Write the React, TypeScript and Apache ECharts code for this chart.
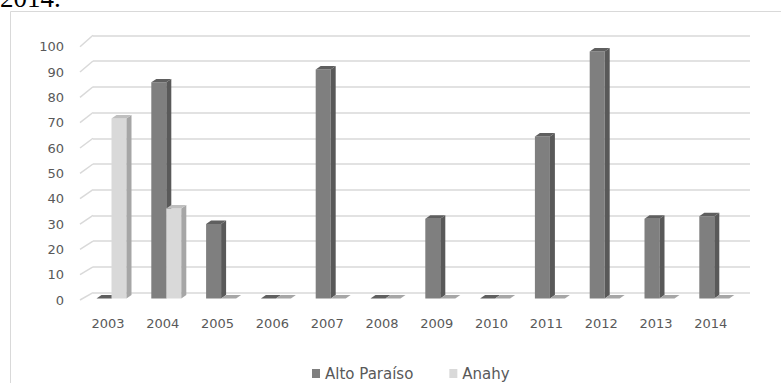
import React, { useEffect, useRef } from "react";
import * as echarts from "echarts";

const years = ["2003", "2004", "2005", "2006", "2007", "2008", "2009", "2010", "2011", "2012", "2013", "2014"];
const altoParaiso = [0, 84, 29, 0, 89, 0, 31, 0, 63, 96, 31, 32];
const anahy = [70, 35, 0, 0, 0, 0, 0, 0, 0, 0, 0, 0];
const seriesNames = ["Alto Paraíso", "Anahy"];
const yTickValues = [0, 10, 20, 30, 40, 50, 60, 70, 80, 90, 100];

const FONT = "DejaVu Sans";

export default function App() {
  const ref = useRef<HTMLDivElement>(null);

  useEffect(() => {
    if (!ref.current) return;
    const chart = echarts.init(ref.current, undefined, { renderer: "svg" });

    const BW = 15;
    const DX = 5;
    const DY = 3.4;
    const SHIFT = 3.5;

    const makeBarRender = (side: number, face: string, sideC: string, topC: string, flatC: string) =>
      (params: any, api: any) => {
        const idx = api.value(0);
        const val = api.value(1);
        const base = api.coord([idx, 0]);
        const top = api.coord([idx, val]);
        const x0 = side === 0 ? base[0] - BW + SHIFT : base[0] + SHIFT;
        const yb = base[1];
        const yt = top[1];
        if (val <= 0) {
          return {
            type: "polygon",
            shape: { points: [[x0, yb], [x0 + DX, yb - DY], [x0 + BW + DX, yb - DY], [x0 + BW, yb]] },
            style: { fill: flatC },
          };
        }
        return {
          type: "group",
          children: [
            { type: "rect", shape: { x: x0, y: yt, width: BW, height: yb - yt }, style: { fill: face } },
            {
              type: "polygon",
              shape: { points: [[x0 + BW, yt], [x0 + BW + DX, yt - DY], [x0 + BW + DX, yb - DY], [x0 + BW, yb]] },
              style: { fill: sideC },
            },
            {
              type: "polygon",
              shape: { points: [[x0, yt], [x0 + DX, yt - DY], [x0 + BW + DX, yt - DY], [x0 + BW, yt]] },
              style: { fill: topC },
            },
          ],
        };
      };

    const slantRender = (params: any, api: any) => {
      const v = api.value(1);
      const back = api.coord([0, v]);
      let front: number[] = [back[0] - 13, back[1] + 9 + (2.7 * v) / 100];
      try {
        const p = chart.convertToPixel({ gridIndex: 1 } as any, [0, v]) as any;
        if (p && isFinite(p[0]) && isFinite(p[1])) front = p;
      } catch (e) {}
      return {
        type: "line",
        shape: { x1: front[0], y1: front[1], x2: back[0], y2: back[1] },
        style: { stroke: "#d9d9d9", lineWidth: 1.5 },
      };
    };

    chart.setOption({
      animation: false,
      backgroundColor: "#ffffff",
      textStyle: { fontFamily: FONT },
      grid: [
        { left: 80.6, right: 42.8, top: 41.2, bottom: 84.5 },
        { left: 80, right: 31, top: 46.7, bottom: 83 },
        { left: 93, right: 31, top: 35.3, bottom: 90.3 },
      ],
      xAxis: [
        {
          type: "category",
          gridIndex: 0,
          data: years,
          axisLine: { show: false },
          axisTick: { show: false },
          axisLabel: { color: "#595959", fontSize: 13, fontFamily: FONT, margin: 18 },
        },
        { type: "value", gridIndex: 1, min: 0, max: 1, show: false },
        { type: "value", gridIndex: 2, min: 0, max: 1, show: false },
      ],
      yAxis: [
        { type: "value", gridIndex: 0, min: 0, max: 100, interval: 10, show: false },
        {
          type: "value",
          gridIndex: 1,
          min: 0,
          max: 100,
          interval: 10,
          axisLine: { show: false },
          axisTick: { show: false },
          splitLine: { show: false },
          axisLabel: { color: "#595959", fontSize: 13, fontFamily: FONT, margin: 16 },
        },
        {
          type: "value",
          gridIndex: 2,
          min: 0,
          max: 100,
          interval: 10,
          axisLine: { show: false },
          axisTick: { show: false },
          axisLabel: { show: false },
          splitLine: { show: true, lineStyle: { color: "#d9d9d9", width: 1.5 } },
        },
      ],
      legend: {
        top: 366,
        left: 312,
        padding: 0,
        itemWidth: 8,
        itemHeight: 9,
        itemGap: 36,
        icon: "rect",
        textStyle: { color: "#595959", fontSize: 15, fontFamily: FONT },
        data: seriesNames,
      },
      graphic: [
        {
          type: "rect",
          shape: { x: 10.5, y: 11.5, width: 900, height: 500 },
          style: { fill: "none", stroke: "#d9d9d9", lineWidth: 1 },
          silent: true,
        },
        {
          type: "text",
          x: 0,
          y: 11,
          style: {
            text: "2014.",
            font: "27px 'Liberation Serif', serif",
            fill: "#000000",
            verticalAlign: "bottom",
          },
          silent: true,
        },
      ],
      series: [
        {
          type: "custom",
          name: "slant",
          xAxisIndex: 2,
          yAxisIndex: 2,
          silent: true,
          renderItem: slantRender,
          data: yTickValues.map((v) => [0, v]),
          z: 1,
        },
        {
          type: "custom",
          name: seriesNames[0],
          xAxisIndex: 0,
          yAxisIndex: 0,
          itemStyle: { color: "#7f7f7f" },
          renderItem: makeBarRender(0, "#7f7f7f", "#595959", "#5f5f5f", "#5f5f5f"),
          data: altoParaiso.map((v, i) => [i, v]),
          z: 3,
        },
        {
          type: "custom",
          name: seriesNames[1],
          xAxisIndex: 0,
          yAxisIndex: 0,
          itemStyle: { color: "#d9d9d9" },
          renderItem: makeBarRender(1, "#d9d9d9", "#a6a6a6", "#bfbfbf", "#a6a6a6"),
          data: anahy.map((v, i) => [i, v]),
          z: 4,
        },
      ],
    });

    return () => chart.dispose();
  }, []);

  return (
    <div
      ref={ref}
      style={{ position: "absolute", left: 0, top: 0, width: 781, height: 383, background: "#fff" }}
    />
  );
}
